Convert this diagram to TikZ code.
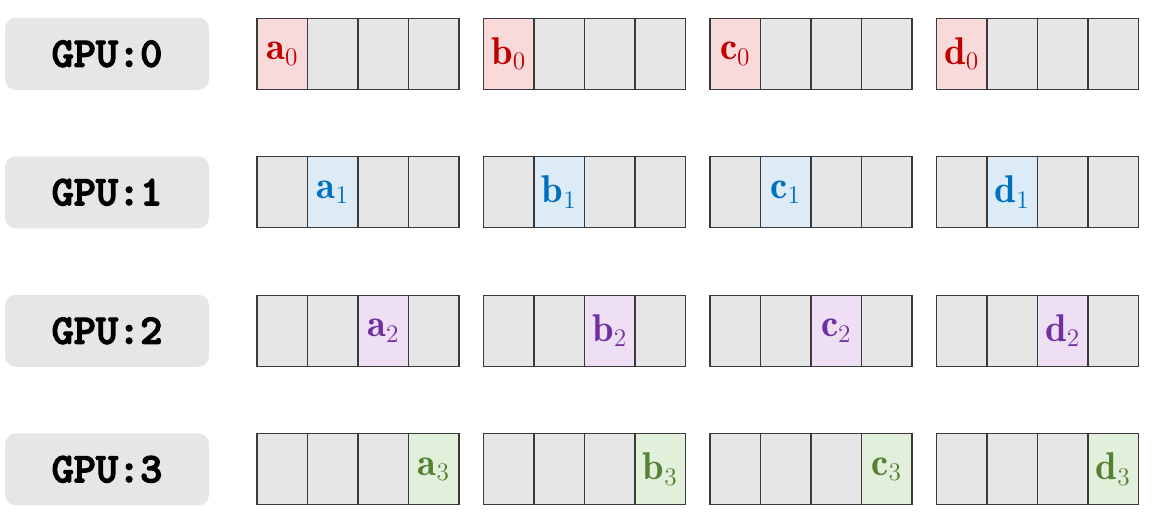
\documentclass[tikz,border=0pt]{standalone}
\usepackage{fontspec}
\newfontfamily\gpufont[FakeBold=3]{lmmonolt10-bold.otf}
\usetikzlibrary{positioning}
\definecolor{cellgray}{HTML}{E6E6E6}
\definecolor{edge}{HTML}{3A3A3A}
\definecolor{redtxt}{HTML}{C00000}
\definecolor{redfill}{HTML}{F8DADA}
\definecolor{bluetxt}{HTML}{0070C0}
\definecolor{bluefill}{HTML}{DDEBF7}
\definecolor{purptxt}{HTML}{7030A0}
\definecolor{purpfill}{HTML}{EEDFF5}
\definecolor{greentxt}{HTML}{548235}
\definecolor{greenfill}{HTML}{E2EFDA}

\begin{document}
\begin{tikzpicture}[x=0.02cm, y=-0.02cm,
  cell/.style={draw=edge, fill=cellgray, line width=0.75pt, minimum width=1.01cm,
    minimum height=1.42cm, inner sep=0pt, font=\fontsize{22}{26}\selectfont},
  gpulabel/.style={fill=cellgray, rounded corners=6pt, minimum width=4.08cm,
    minimum height=1.44cm, inner sep=0pt, font=\gpufont\fontsize{24}{28}\selectfont}]
  \useasboundingbox (0,0) rectangle (1162,525);
  \foreach \r/\tc/\fc in {0/redtxt/redfill, 1/bluetxt/bluefill, 2/purptxt/purpfill, 3/greentxt/greenfill}{
    \node[gpulabel] (gpu\r) at (107, 53.8+138.5*\r) {GPU:\r};
    \foreach \g/\v in {0/a, 1/b, 2/c, 3/d}{
      \foreach \c in {0,...,3}{
        \ifnum\c=\r
          \node[cell, fill=\fc, text=\tc] (cell\r\g\c) at (282.25+226.5*\g+50.5*\c, 53.8+138.5*\r) {$\mathbf{\v}_{\r}$};
        \else
          \node[cell] (cell\r\g\c) at (282.25+226.5*\g+50.5*\c, 53.8+138.5*\r) {};
        \fi
      }
    }
  }
\end{tikzpicture}
\end{document}
